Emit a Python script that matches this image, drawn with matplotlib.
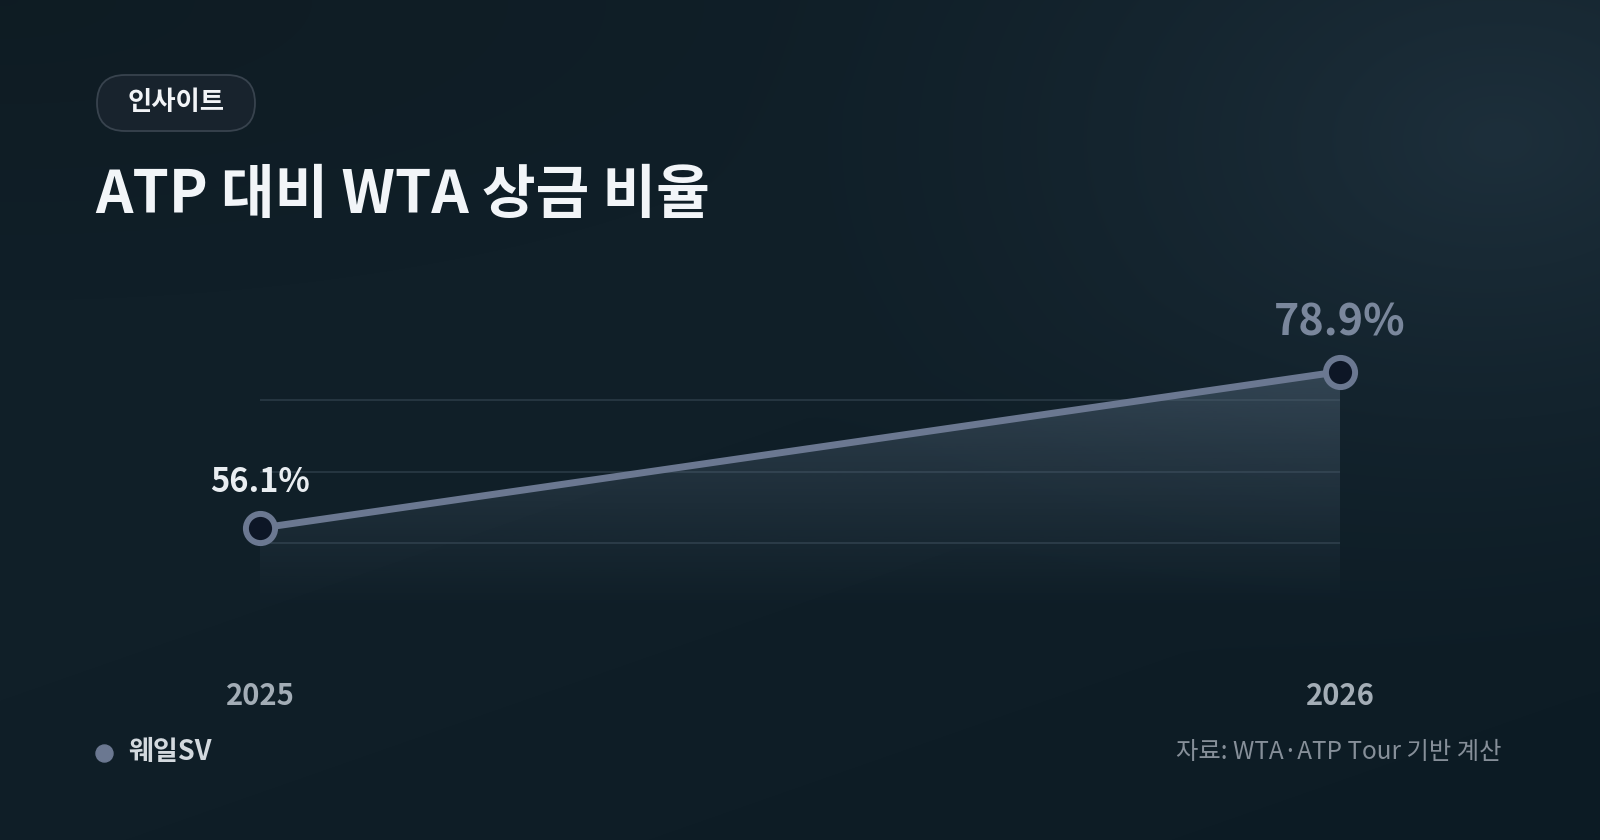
import numpy as np
import matplotlib
matplotlib.use("Agg")
import matplotlib.pyplot as plt
from matplotlib.patches import FancyBboxPatch, Polygon
from matplotlib.transforms import blended_transform_factory

plt.rcParams['font.family'] = ['Noto Sans CJK KR', 'DejaVu Sans']

# ---------------- data ----------------
years = [2025, 2026]
year_labels = ['2025', '2026']
ratio = [56.1, 78.9]
value_labels = ['56.1%', '78.9%']
grid_vals = [53.9, 64.3, 74.7]
series_name = '웨일SV'
title = 'ATP 대비 WTA 상금 비율'
badge = '인사이트'
source = '자료: WTA·ATP Tour 기반 계산'

LINE = '#6b7891'
W, H = 1600, 840

fig = plt.figure(figsize=(16, 8.4), dpi=100)

# ---------------- background ----------------
bg = fig.add_axes([0, 0, 1, 1])
bg.set_xlim(0, W); bg.set_ylim(H, 0); bg.axis('off')
yy, xx = np.mgrid[0:H, 0:W]
base = np.array([0x10, 0x1f, 0x28]) / 255.0
img = np.ones((H, W, 3)) * base
# soft bluish glow top-right
d = np.sqrt(((xx - 1500) / 800.0) ** 2 + ((yy - 140) / 560.0) ** 2)
glow = np.clip(1 - d, 0, 1) ** 1.6
img += glow[..., None] * (np.array([0x1d, 0x2f, 0x3b]) / 255.0 - base)
# darker top-left and bottom-right
dark = np.clip((yy / H) * 0.6 + (xx / W) * 0.4 - 0.5, 0, 1)
img -= dark[..., None] * 0.03
tl = np.clip(1 - np.sqrt((xx / 900.0) ** 2 + (yy / 300.0) ** 2), 0, 1)
img -= tl[..., None] * np.array([0.005, 0.012, 0.018])
bg.imshow(np.clip(img, 0, 1), extent=[0, W, H, 0], aspect='auto', zorder=0)

# badge
pill = FancyBboxPatch((97, 75), 158, 56, boxstyle='round,pad=0,rounding_size=28',
                      fc='#18232d', ec='#38434e', lw=1.3, zorder=2)
bg.add_patch(pill)
bg.text(176, 102, badge, color='#f2f4f7', fontsize=19, fontweight='bold',
        ha='center', va='center', zorder=3)

# title
bg.text(95, 213, title, color='#f2f5f8', fontsize=42, fontweight='bold',
        ha='left', va='baseline', zorder=3)

# legend + source
bg.scatter([104], [753], s=150, color=LINE, zorder=3)
bg.text(128, 752, series_name, color='#d3d9de', fontsize=19.5, fontweight='bold',
        ha='left', va='center', zorder=3)
bg.text(1502, 752, source, color='#868f99', fontsize=17.5,
        ha='right', va='center', zorder=3)

# ---------------- chart ----------------
ax = fig.add_axes([260 / W, 1 - 612 / H, 1080 / W, 272 / H])
ax.patch.set_alpha(0)
ax.set_xlim(years[0], years[-1])
ax.set_ylim(43.9, 83.5)
ax.axis('off')

for g in grid_vals:
    ax.axhline(g, color='#283843', lw=1.3, zorder=1)

# gradient fill under line
ymin = ax.get_ylim()[0]
grad = np.linspace(0, 1, 256).reshape(-1, 1)
cols = np.zeros((256, 1, 4))
cols[..., :3] = np.array([0x5a, 0x6e, 0x82]) / 255.0
cols[..., 3] = 0.45 * grad ** 1.1
top = max(ratio)
im = ax.imshow(cols, extent=[years[0], years[-1], ymin, top], origin='lower',
               aspect='auto', zorder=2)
poly = Polygon([(years[0], ymin)] + list(zip(years, ratio)) + [(years[-1], ymin)],
               closed=True, transform=ax.transData, fc='none', ec='none')
ax.add_patch(poly)
im.set_clip_path(poly)

ax.plot(years, ratio, color=LINE, lw=5, solid_capstyle='round', zorder=3)
ax.plot(years, ratio, 'o', ms=21, mfc='#0d1626', mec=LINE, mew=4.3,
        zorder=4, clip_on=False)

ax.annotate(value_labels[0], (years[0], ratio[0]), xytext=(0, 33),
            textcoords='offset points', ha='center', va='center',
            color='#e9edf1', fontsize=23.5, fontweight='bold')
ax.annotate(value_labels[1], (years[1], ratio[1]), xytext=(0, 35),
            textcoords='offset points', ha='center', va='center',
            color='#7a879c', fontsize=31, fontweight='bold')

tr = blended_transform_factory(ax.transData, ax.transAxes)
for x, lab in zip(years, year_labels):
    ax.text(x, -(696 - 612) / 272, lab, transform=tr, ha='center', va='center',
            color='#a3adb6', fontsize=21, fontweight='bold', clip_on=False)

fig.savefig('out.png', dpi=100)
